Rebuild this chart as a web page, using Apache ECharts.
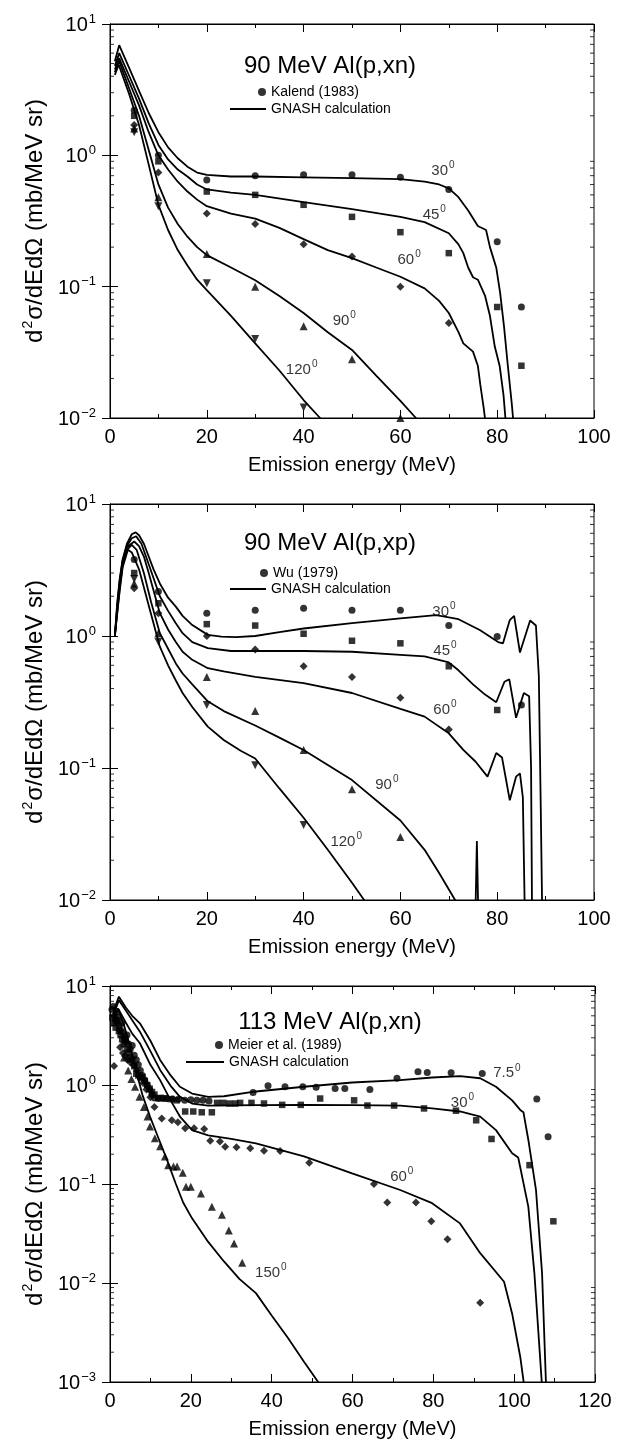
<!DOCTYPE html>
<html><head><meta charset="utf-8">
<script src="https://cdn.jsdelivr.net/npm/echarts@6/dist/echarts.min.js"></script>
<style>html,body{margin:0;padding:0;background:#fff}#c{width:628px;height:1444px}</style>
</head><body><div id="c"></div><script>
// ---------- Panel 1: 90 MeV Al(p,xn), Kalend (1983) ----------
const p1Exp30  = [[5,2.2],[10,1.0],[20,0.65],[30,0.70],[40,0.71],[50,0.71],[60,0.68],[70,0.55],[80,0.22],[85,0.070]];
const p1Exp45  = [[5,2.0],[10,0.9],[20,0.53],[30,0.50],[40,0.42],[50,0.34],[60,0.26],[70,0.18],[80,0.070],[85,0.025]];
const p1Exp60  = [[5,1.7],[10,0.74],[20,0.36],[30,0.30],[40,0.21],[50,0.17],[60,0.10],[70,0.053]];
const p1Exp90  = [[5,1.6],[10,0.48],[20,0.177],[30,0.10],[40,0.050],[50,0.028],[60,0.010]];
const p1Exp120 = [[5,1.5],[10,0.41],[20,0.106],[30,0.040],[40,0.012]];
const p1Calc30  = [[1,5.2],[1.9,6.9],[4,4.6],[6,3.1],[8,2.1],[10,1.5],[12,1.15],[14,0.95],[16,0.82],[18,0.74],[20,0.71],[25,0.69],[30,0.69],[40,0.68],[50,0.67],[60,0.66],[65,0.63],[68,0.6],[70,0.56],[72,0.48],[74,0.38],[76,0.29],[77.7,0.27],[78.5,0.2],[79.8,0.14],[80.6,0.09],[81.4,0.05],[82.2,0.025],[83,0.013],[83.5,0.008]];
const p1Calc45  = [[1,4.8],[1.9,6.0],[4,4.0],[6,2.7],[8,1.75],[10,1.2],[12,0.93],[14,0.78],[16,0.69],[18,0.6],[20,0.55],[25,0.52],[30,0.50],[40,0.44],[50,0.39],[60,0.34],[65,0.31],[70,0.255],[72,0.21],[73,0.18],[74,0.14],[75,0.118],[76,0.113],[77.5,0.085],[78.5,0.06],[79.5,0.035],[80.5,0.025],[81.3,0.015],[81.8,0.009]];
const p1Calc60  = [[1,4.5],[1.9,5.5],[4,3.6],[6,2.4],[8,1.5],[10,1.0],[12,0.78],[14,0.63],[16,0.53],[18,0.46],[20,0.41],[25,0.36],[30,0.33],[35,0.28],[40,0.23],[45,0.19],[50,0.165],[55,0.14],[60,0.119],[65,0.097],[68,0.078],[70,0.063],[72,0.045],[73,0.037],[75,0.032],[76,0.025],[76.5,0.018],[77.2,0.012],[77.8,0.008]];
const p1Calc90  = [[1,4.3],[1.9,5.2],[4,3.2],[6,2.0],[8,1.1],[10,0.6],[12,0.4],[14,0.3],[16,0.24],[18,0.2],[20,0.174],[25,0.14],[30,0.112],[35,0.085],[40,0.063],[45,0.045],[50,0.033],[55,0.021],[60,0.0135],[63.2,0.01],[64,0.009]];
const p1Calc120 = [[1,4.1],[1.8,4.9],[4,2.9],[6,1.7],[8,0.85],[10,0.42],[12,0.27],[14,0.19],[16,0.145],[18,0.113],[20,0.094],[25,0.06],[30,0.037],[35,0.023],[40,0.0137],[43.4,0.01],[44,0.009]];
const p1Angles = [[68.8,0.78,'30'],[67.0,0.36,'45'],[61.8,0.164,'60'],[48.4,0.056,'90'],[39.6,0.024,'120']];

// ---------- Panel 2: 90 MeV Al(p,xp), Wu (1979) ----------
const p2Exp30  = [[5,3.8],[10,2.17],[20,1.49],[30,1.57],[40,1.62],[50,1.57],[60,1.57],[70,1.2],[80,0.99],[85,0.30]];
const p2Exp45  = [[5,3.0],[10,1.77],[20,1.23],[30,1.2],[40,1.04],[50,0.92],[60,0.88],[70,0.59],[80,0.275]];
const p2Exp60  = [[5,2.3],[10,1.49],[20,1.0],[30,0.79],[40,0.59],[50,0.49],[60,0.34],[70,0.196]];
const p2Exp90  = [[5,2.5],[10,1.05],[20,0.49],[30,0.27],[40,0.137],[50,0.069],[60,0.030]];
const p2Exp120 = [[5,2.7],[10,0.905],[20,0.30],[30,0.105],[40,0.037]];
const p2Calc30  = [[1,1.0],[1.5,1.8],[2,2.7],[2.6,3.8],[3.5,5.0],[4.5,5.9],[5.3,6.1],[6,5.8],[7,5.0],[8,4.0],[9,3.2],[10.3,2.5],[12,1.95],[13.6,1.67],[15,1.42],[17,1.21],[20.2,1.02],[23,0.99],[26,0.98],[30,1.0],[35,1.07],[40,1.14],[50,1.25],[60,1.36],[67.4,1.44],[72,1.34],[76.4,1.11],[80.2,0.9],[81.2,0.88],[82.6,1.32],[83.5,1.42],[84.7,0.75],[86.8,1.31],[88,1.2],[88.6,0.5],[89,0.05],[89.3,0.008]];
const p2Calc45  = [[1,1.0],[1.5,1.7],[2,2.6],[2.6,3.7],[3.5,4.8],[4.5,5.5],[5.4,5.7],[6.5,5.0],[8,3.5],[10.3,2.0],[12,1.55],[13.6,1.25],[15,1.05],[17,0.9],[20.2,0.81],[25,0.77],[30,0.77],[40,0.77],[50,0.76],[60,0.72],[65,0.70],[70,0.63],[72,0.55],[75,0.43],[77.5,0.36],[79.8,0.315],[81.5,0.45],[82.5,0.47],[83.9,0.24],[85.5,0.37],[86.6,0.35],[87,0.1],[87.2,0.008]];
const p2Calc60  = [[1,1.0],[1.5,1.6],[2,2.5],[2.6,3.6],[3.5,4.7],[5,5.2],[6,4.8],[7,4.0],[8,3.0],[10.3,1.49],[12,1.12],[13.6,0.9],[15,0.76],[17,0.66],[20.2,0.57],[23.5,0.54],[30,0.49],[40,0.44],[50,0.37],[60,0.28],[65,0.245],[70,0.183],[73,0.137],[75.5,0.112],[78,0.086],[79.8,0.13],[81,0.12],[82.6,0.057],[83.9,0.086],[84.7,0.091],[85.3,0.06],[85.7,0.008]];
const p2Calc90  = [[1,1.0],[1.5,1.5],[2,2.3],[2.6,3.4],[3.5,4.5],[4.5,4.9],[5.5,4.5],[7,3.0],[8.5,1.8],[10.3,1.05],[12,0.8],[13.6,0.62],[15,0.52],[17,0.43],[20.2,0.32],[23.5,0.27],[30,0.21],[35,0.17],[40,0.137],[50,0.081],[60,0.040],[65,0.024],[68,0.016],[71.3,0.01],[72,0.008],[75.4,0.005],[75.8,0.028],[76.2,0.005]];
const p2Calc120 = [[1,1.0],[1.5,1.5],[2,2.2],[2.6,3.3],[3.7,4.5],[4.5,4.3],[6,3.2],[8,1.7],[10.3,0.83],[12,0.6],[13.6,0.46],[15,0.37],[17,0.29],[20.2,0.206],[23.5,0.163],[27,0.135],[30,0.118],[35,0.07],[40,0.042],[45,0.024],[50,0.0135],[52.5,0.01],[53,0.009]];
const p2Angles = [[69.0,1.57,'30'],[69.2,0.79,'45'],[69.2,0.283,'60'],[57.2,0.077,'90'],[48.8,0.0285,'120']];

// ---------- Panel 3: 113 MeV Al(p,xn), Meier et al. (1989) ----------
const p3Exp7  = [[0.5,5.8],[0.8,6.2],[1.1,5.0],[1.4,4.4],[1.7,5.5],[2.0,4.8],[2.3,4.0],[2.6,3.6],[2.9,4.2],[3.2,3.4],[3.5,3.0],[3.8,2.7],[4.2,3.2],[4.6,2.6],[5.0,2.3],[5.5,2.5],[6.0,2.0],[6.5,1.8],[7.0,1.6],[7.5,1.4],[8.0,1.25],[8.6,1.12],[9.2,1.0],[9.8,0.9],[10.4,0.8],[11.0,0.74],[12,0.73],[13,0.74],[14,0.73],[15.5,0.72],[17,0.72],[18.5,0.7],[20,0.71],[21.5,0.7],[23,0.7],[24.5,0.69],[35.4,0.84],[39.1,0.98],[43.3,0.96],[47.7,0.96],[51,0.95],[55.7,0.92],[58.1,0.92],[64.3,0.90],[71,1.17],[76.2,1.36],[78.5,1.34],[84.4,1.33],[92.1,1.31],[105.6,0.72],[108.4,0.30]];
const p3Exp30 = [[0.6,4.8],[1.0,4.2],[1.4,3.8],[1.8,4.5],[2.2,3.5],[2.6,3.2],[3.0,2.9],[3.4,2.6],[3.8,2.9],[4.2,2.3],[4.6,2.1],[5.0,1.9],[5.5,1.8],[6.0,1.55],[6.5,1.3],[7.0,1.25],[7.5,1.2],[8.0,1.2],[8.6,1.1],[9.2,1.0],[9.8,0.92],[10.4,0.85],[11,0.8],[12,0.74],[13.5,0.73],[15,0.72],[16.5,0.7],[18.6,0.54],[20.6,0.54],[22.7,0.53],[25.2,0.53],[26.5,0.66],[28,0.66],[29.5,0.65],[31,0.65],[32.2,0.66],[35,0.66],[38.1,0.65],[42.6,0.63],[47.2,0.63],[52,0.73],[60.4,0.70],[63.7,0.62],[70.3,0.62],[77.7,0.58],[85.6,0.55],[90.6,0.44],[94.4,0.285],[103.8,0.155],[109.7,0.042]];
const p3Exp60 = [[1,1.56],[2.5,2.4],[3.2,2.1],[3.7,1.96],[4.3,1.8],[5,1.7],[5.8,1.58],[6.6,1.41],[7.4,1.2],[8.2,1.05],[9,0.9],[10,0.75],[11,0.6],[12.8,0.46],[15.3,0.44],[16.8,0.42],[18.6,0.365],[20.8,0.365],[23.3,0.36],[24.8,0.274],[27.2,0.268],[28.5,0.238],[31.3,0.235],[34.7,0.23],[38.1,0.217],[42.1,0.215],[49.3,0.164],[65.3,0.10],[68.6,0.065],[75.7,0.065],[79.5,0.042],[83.5,0.0276],[91.6,0.0063]];
const p3Exp150 = [[3.5,1.9],[4.5,1.4],[5.3,1.15],[6.2,0.96],[7.3,0.76],[8.4,0.60],[9.3,0.48],[9.9,0.38],[11.1,0.29],[12.4,0.24],[13.6,0.19],[14.4,0.155],[15.7,0.15],[16.6,0.15],[18,0.13],[18.8,0.094],[20,0.094],[22.5,0.08],[25.2,0.059],[27.7,0.049],[29.4,0.034],[30.7,0.025],[32.7,0.016]];
const p3Calc7   = [[0.8,5.5],[2.2,7.8],[4,6.0],[5.5,5.0],[7.4,4.2],[10,2.8],[12.4,1.79],[15,1.25],[17.3,0.96],[20.3,0.82],[24.3,0.76],[28.2,0.77],[36.1,0.86],[48,0.96],[59.9,1.06],[71.8,1.12],[79.7,1.19],[86.6,1.23],[91.6,1.17],[95.5,0.96],[99.5,0.70],[101.5,0.56],[102.3,0.53],[103.5,0.28],[105.4,0.087],[106.9,0.0126],[107.9,0.0009]];
const p3Calc30  = [[0.8,5.0],[2.2,7.2],[4,5.6],[5.5,4.5],[7.4,3.46],[10,2.2],[12.4,1.42],[15,0.98],[17.3,0.76],[20.3,0.65],[24.3,0.62],[36.1,0.626],[48,0.63],[60,0.626],[71.8,0.62],[79.7,0.58],[86.6,0.54],[91.6,0.48],[95.5,0.35],[99.5,0.204],[101,0.185],[103.5,0.059],[105,0.0126],[106.9,0.0009]];
const p3Calc60  = [[0.8,4.5],[2,5.9],[4,4.2],[5.5,3.3],[7.4,2.64],[10,1.6],[12.4,1.12],[15,0.7],[17.3,0.48],[20.3,0.35],[24.3,0.31],[30,0.285],[36.1,0.257],[48,0.19],[59.9,0.128],[71.8,0.087],[79.7,0.064],[86.6,0.040],[91.6,0.020],[97.5,0.0103],[99.5,0.0049],[101.5,0.0018],[102.5,0.0009]];
const p3Calc150 = [[0.8,4.5],[2,5.9],[3.5,4.0],[5,2.4],[6.2,1.53],[8,0.8],[9.9,0.48],[12,0.29],[14,0.18],[16.3,0.1],[18.1,0.065],[20.3,0.045],[24.3,0.026],[28.2,0.0165],[32,0.011],[36.1,0.0079],[40,0.0047],[44,0.0028],[48,0.0016],[51.5,0.001],[52,0.0009]];
const p3Angles = [[98.2,1.36,'7.5'],[87.2,0.68,'30'],[72.2,0.123,'60'],[39.8,0.013,'150']];

// ---------- Axis tick labels ----------
const xTickLabels = ['0','20','40','60','80','100','120'];

const FONT = '"Liberation Sans", Arial, Helvetica, sans-serif';
const BLACK = '#000';

function logLabel(v){
  const e = Math.round(Math.log10(v));
  return '{b|10}{s|' + (e < 0 ? '\u2212' + (-e) : String(e)) + '}';
}
function minorTickValues(minExp, maxExp){
  const out = [];
  for (let e = minExp; e < maxExp; e++) for (let m = 2; m <= 9; m++) out.push(m * Math.pow(10, e));
  return out;
}

const panels = [
  { title:'90 MeV Al(p,xn)', expName:'Kalend (1983)', xMax:100, yMin:0.01, minExp:-2,
    grid:{left:110, top:24, width:484, height:394},
    exp:[{d:p1Exp30,s:'circle'},{d:p1Exp45,s:'rect'},{d:p1Exp60,s:'diamond'},{d:p1Exp90,s:'triangle'},{d:p1Exp120,s:'triangle',r:180}],
    calc:[p1Calc30,p1Calc45,p1Calc60,p1Calc90,p1Calc120], angles:p1Angles,
    titlePos:[330,54], legExp:[258,85], legCalc:[230,102], calcW:36 },
  { title:'90 MeV Al(p,xp)', expName:'Wu (1979)', xMax:100, yMin:0.01, minExp:-2,
    grid:{left:110, top:504, width:484, height:396},
    exp:[{d:p2Exp30,s:'circle'},{d:p2Exp45,s:'rect'},{d:p2Exp60,s:'diamond'},{d:p2Exp90,s:'triangle'},{d:p2Exp120,s:'triangle',r:180}],
    calc:[p2Calc30,p2Calc45,p2Calc60,p2Calc90,p2Calc120], angles:p2Angles,
    titlePos:[330,531], legExp:[260,566], legCalc:[230,582], calcW:36 },
  { title:'113 MeV Al(p,xn)', expName:'Meier et al. (1989)', xMax:120, yMin:0.001, minExp:-3,
    grid:{left:110, top:986, width:485, height:396},
    exp:[{d:p3Exp7,s:'circle'},{d:p3Exp30,s:'rect'},{d:p3Exp60,s:'diamond'},{d:p3Exp150,s:'triangle'}],
    calc:[p3Calc7,p3Calc30,p3Calc60,p3Calc150], angles:p3Angles,
    titlePos:[330,1010], legExp:[215,1038], legCalc:[186,1055], calcW:38 }
];

const grids=[], xAxes=[], yAxes=[], series=[], titles=[], legends=[];
const axisLineStyle = {show:true, lineStyle:{color:BLACK, width:1}};
const supRich = {
  b:{fontSize:20, fontFamily:FONT, color:BLACK, verticalAlign:'bottom'},
  s:{fontSize:13, fontFamily:FONT, color:BLACK, verticalAlign:'bottom', padding:[0,0,10,1]}
};

panels.forEach((p, i) => {
  grids.push(Object.assign({show:true, borderColor:BLACK, borderWidth:1, backgroundColor:'transparent'}, p.grid));
  const xi = xAxes.length, yi = yAxes.length;
  const xBase = {gridIndex:i, type:'value', min:0, max:p.xMax, interval:20,
    axisLine:axisLineStyle, splitLine:{show:false},
    axisTick:{show:true, inside:true, length:8, lineStyle:{color:BLACK}},
    minorTick:{show:true, splitNumber:2, length:4, lineStyle:{color:BLACK}}};
  xAxes.push(Object.assign({}, xBase, {position:'bottom',
    axisLabel:{show:true, fontSize:20, fontFamily:FONT, color:BLACK, margin:9,
      formatter: v => xTickLabels[Math.round(v/20)]},
    name:'Emission energy (MeV)', nameLocation:'middle', nameGap:37,
    nameTextStyle:{fontSize:20, fontFamily:FONT, color:BLACK}}));
  xAxes.push(Object.assign({}, xBase, {position:'top', axisLabel:{show:false}}));
  const yBase = {gridIndex:i, type:'log', logBase:10, min:p.yMin, max:10,
    axisLine:axisLineStyle, splitLine:{show:false},
    axisTick:{show:true, inside:true, length:8, lineStyle:{color:BLACK}}};
  yAxes.push(Object.assign({}, yBase, {position:'left',
    axisLabel:{show:true, margin:14, formatter:logLabel, rich:supRich},
    name:'{a|d}{s|2}{a|\u03c3/dEd\u03a9 (mb/MeV sr)}', nameLocation:'middle', nameGap:55,
    nameTextStyle:{rich:{a:{fontSize:24, fontFamily:FONT, color:BLACK, verticalAlign:'bottom'},
                         s:{fontSize:14, fontFamily:FONT, color:BLACK, verticalAlign:'bottom', padding:[0,1,12,1]}}}}));
  yAxes.push(Object.assign({}, yBase, {position:'right', axisLabel:{show:false}}));

  // experimental points
  p.exp.forEach((e, k) => {
    series.push({type:'scatter', name: k === 0 ? p.expName : p.expName + ' #' + k,
      xAxisIndex:xi, yAxisIndex:yi, data:e.d, symbol:e.s, symbolRotate:e.r || 0,
      symbolSize: e.s === 'circle' ? 7 : e.s === 'rect' ? 6.5 : 8,
      itemStyle:{color:BLACK}, silent:true, z:4});
  });
  // calculations
  p.calc.forEach(c => {
    series.push({type:'line', name:'GNASH calculation', xAxisIndex:xi, yAxisIndex:yi, data:c,
      symbol:'none', showSymbol:false, clip:true, silent:true,
      lineStyle:{color:BLACK, width:1.8}, itemStyle:{color:BLACK}, z:3});
  });
  // angle labels
  series.push({type:'scatter', name:'angles ' + i, xAxisIndex:xi, yAxisIndex:yi,
    data:p.angles, symbol:'circle', symbolSize:0, silent:true, z:5,
    label:{show:true, position:'inside',
      formatter: prm => '{a|' + prm.data[2] + '}{s|0}',
      rich:{a:{fontSize:15, fontFamily:FONT, color:BLACK, verticalAlign:'bottom'},
            s:{fontSize:10, fontFamily:FONT, color:BLACK, verticalAlign:'bottom', padding:[0,0,8,1]}}}});
  // log minor ticks (left and right borders)
  const mt = minorTickValues(p.minExp, 1);
  series.push({type:'scatter', name:'minorL ' + i, xAxisIndex:xi, yAxisIndex:yi,
    data: mt.map(v => [0, v]), symbol:'rect', symbolSize:[4,1], symbolOffset:[2,0],
    itemStyle:{color:BLACK}, silent:true, clip:false, z:6});
  series.push({type:'scatter', name:'minorR ' + i, xAxisIndex:xi, yAxisIndex:yi,
    data: mt.map(v => [p.xMax, v]), symbol:'rect', symbolSize:[4,1], symbolOffset:[-2,0],
    itemStyle:{color:BLACK}, silent:true, clip:false, z:6});

  titles.push({text:p.title, left:p.titlePos[0], top:p.titlePos[1], textAlign:'center', padding:0,
    textStyle:{fontSize:24, fontWeight:'normal', fontFamily:FONT, color:BLACK}});
  legends.push({data:[p.expName], left:p.legExp[0], top:p.legExp[1], padding:0, orient:'vertical',
    itemWidth:8, itemHeight:8, selectedMode:false,
    textStyle:{fontSize:14, fontFamily:FONT, color:BLACK}});
  legends.push({data:[{name:'GNASH calculation', icon:'rect'}], left:p.legCalc[0], top:p.legCalc[1], padding:0, orient:'vertical',
    itemWidth:p.calcW, itemHeight:2, selectedMode:false, itemStyle:{color:BLACK},
    textStyle:{fontSize:14, fontFamily:FONT, color:BLACK}});
});

const chart = echarts.init(document.getElementById('c'), null, {renderer:'canvas', width:628, height:1444});
chart.setOption({
  backgroundColor:'#fff', animation:false,
  textStyle:{fontFamily:FONT},
  title:titles, legend:legends, grid:grids, xAxis:xAxes, yAxis:yAxes, series:series
});
</script></body></html>
